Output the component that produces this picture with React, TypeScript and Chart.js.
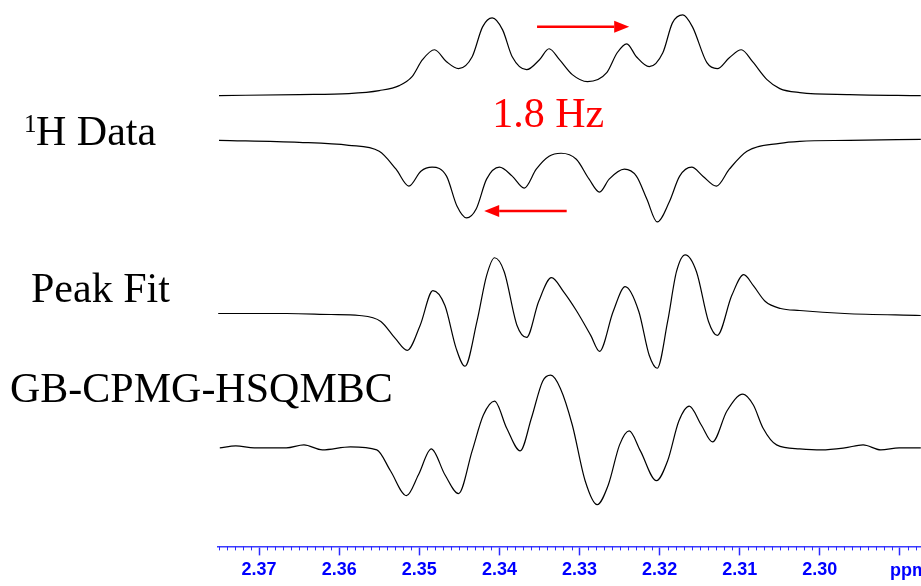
import React, { useEffect, useRef } from "react";
import { Chart, registerables } from "chart.js";

Chart.register(...registerables);

// ppm axis ticks
const tickValues = [2.37, 2.36, 2.35, 2.34, 2.33, 2.32, 2.31, 2.30, 2.29];
const tickLabels = ["2.37", "2.36", "2.35", "2.34", "2.33", "2.32", "2.31", "2.30", "ppm"];

// Trace 1: 1H data (in-phase, upright)
const hUpPpm = [2.3750, 2.3650, 2.3588, 2.3550, 2.3525, 2.3509, 2.3496, 2.3481, 2.3466, 2.3451, 2.3434, 2.3421, 2.3409, 2.3396, 2.3384, 2.3366, 2.3350, 2.3338, 2.3325, 2.3309, 2.3290, 2.3266, 2.3253, 2.3241, 2.3229, 2.3213, 2.3196, 2.3184, 2.3171, 2.3159, 2.3141, 2.3128, 2.3113, 2.3098, 2.3084, 2.3066, 2.3050, 2.3025, 2.2963, 2.2874];
const hUpVal = [0, 1, 2, 5, 10, 19, 36, 46, 34, 27, 39, 69, 78, 66, 39, 26, 36, 47, 36, 21, 14, 23, 43, 52, 39, 29, 43, 73, 81, 69, 33, 27, 38, 46, 34, 16, 7, 3, 1, 0];

// Trace 2: 1H data (inverted)
const hDownPpm = [2.3750, 2.3650, 2.3588, 2.3550, 2.3529, 2.3513, 2.3498, 2.3484, 2.3466, 2.3453, 2.3441, 2.3429, 2.3416, 2.3400, 2.3384, 2.3369, 2.3354, 2.3338, 2.3323, 2.3304, 2.3288, 2.3275, 2.3263, 2.3244, 2.3229, 2.3216, 2.3203, 2.3188, 2.3175, 2.3160, 2.3146, 2.3129, 2.3113, 2.3091, 2.3050, 2.3025, 2.2963, 2.2874];
const hDownVal = [0, -2, -5, -11, -29, -46, -31, -27, -36, -66, -78, -69, -39, -27, -36, -48, -29, -16, -13, -19, -39, -52, -39, -29, -36, -59, -82, -62, -36, -27, -36, -46, -29, -11, -3, -1, 0, 1];

// Trace 3: Peak Fit
const fitPpm = [2.3751, 2.3666, 2.3610, 2.3575, 2.3548, 2.3530, 2.3515, 2.3499, 2.3483, 2.3468, 2.3454, 2.3443, 2.3428, 2.3416, 2.3406, 2.3394, 2.3378, 2.3366, 2.3351, 2.3335, 2.3320, 2.3304, 2.3286, 2.3275, 2.3258, 2.3243, 2.3226, 2.3213, 2.3203, 2.3190, 2.3179, 2.3168, 2.3154, 2.3139, 2.3128, 2.3110, 2.3095, 2.3083, 2.3068, 2.3049, 2.3025, 2.2969, 2.2874];
const fitVal = [0, 0, -1, -2, -8, -25, -37, -12, 23, 8, -35, -53, -8, 38, 56, 42, -12, -24, 12, 36, 22, 3, -22, -38, 2, 27, 2, -42, -55, -8, 42, 59, 42, -8, -22, 18, 39, 28, 12, 5, 3, 0, -2];

// Trace 4: GB-CPMG-HSQMBC
const cpmgPpm = [2.3749, 2.3729, 2.3706, 2.3666, 2.3644, 2.3621, 2.3586, 2.3553, 2.3536, 2.3516, 2.3501, 2.3485, 2.3468, 2.3451, 2.3434, 2.3420, 2.3406, 2.3391, 2.3374, 2.3360, 2.3346, 2.3336, 2.3324, 2.3309, 2.3293, 2.3278, 2.3264, 2.3250, 2.3238, 2.3224, 2.3204, 2.3190, 2.3176, 2.3163, 2.3148, 2.3134, 2.3116, 2.3096, 2.3083, 2.3071, 2.3054, 2.3025, 2.2998, 2.2969, 2.2946, 2.2924, 2.2901, 2.2874];
const cpmgVal = [0, 2, 0, 0, 3, -2, 1, -2, -23, -48, -27, -1, -27, -46, -3, 33, 47, 20, -3, 30, 67, 73, 60, 23, -33, -57, -37, 3, 17, -3, -33, -13, 27, 42, 23, 6, 37, 54, 43, 20, 3, -1, -2, 0, 3, -2, 0, 0];

// vertical baseline of each trace (in y-scale units)
const traceOffsets = [453, 408, 234, 99];
const traces = [
  { ppm: hUpPpm, val: hUpVal },
  { ppm: hDownPpm, val: hDownVal },
  { ppm: fitPpm, val: fitVal },
  { ppm: cpmgPpm, val: cpmgVal },
];

const X_MIN = 2.287375;
const X_MAX = 2.375125;
const Y_MAX = 549;

const serif = "'Liberation Serif', 'Times New Roman', serif";
const sansBold = "bold 18px 'Liberation Sans', Arial, sans-serif";

const overlayPlugin = {
  id: "overlay",
  afterDraw(chart: any) {
    const ctx = chart.ctx;
    const xs = chart.scales.x;
    const ys = chart.scales.y;
    const bottom = chart.chartArea.bottom;
    ctx.save();
    // minor ticks
    ctx.strokeStyle = "#2a2aff";
    ctx.lineWidth = 1;
    for (let k = 2288; k <= 2375; k++) {
      if (k % 10 === 0) continue;
      const px = Math.round(xs.getPixelForValue(k / 1000)) + 0.5;
      ctx.beginPath();
      ctx.moveTo(px, bottom);
      ctx.lineTo(px, bottom + 4);
      ctx.stroke();
    }
    // unit label at the last tick
    ctx.fillStyle = "#0000ff";
    ctx.font = sansBold;
    ctx.textAlign = "left";
    ctx.textBaseline = "middle";
    ctx.fillText(tickLabels[tickLabels.length - 1], xs.getPixelForValue(tickValues[tickValues.length - 1]) - 10, bottom + 25);
    // arrows
    const arrow = (from: number, to: number, yv: number) => {
      const x1 = xs.getPixelForValue(from);
      const x2 = xs.getPixelForValue(to);
      const y = ys.getPixelForValue(yv);
      const dir = Math.sign(x2 - x1);
      const headLen = 15;
      ctx.strokeStyle = "#ff0000";
      ctx.fillStyle = "#ff0000";
      ctx.lineWidth = 2.5;
      ctx.beginPath();
      ctx.moveTo(x1, y);
      ctx.lineTo(x2 - dir * headLen, y);
      ctx.stroke();
      ctx.beginPath();
      ctx.moveTo(x2, y);
      ctx.lineTo(x2 - dir * headLen, y - 6);
      ctx.lineTo(x2 - dir * headLen, y + 6);
      ctx.closePath();
      ctx.fill();
    };
    arrow(2.3353, 2.3238, 522);
    arrow(2.3316, 2.3419, 337);
    // 1.8 Hz
    ctx.fillStyle = "#ff0000";
    ctx.font = `42px ${serif}`;
    ctx.textAlign = "center";
    ctx.textBaseline = "alphabetic";
    ctx.fillText("1.8 Hz", xs.getPixelForValue(2.3339), ys.getPixelForValue(421));
    // left labels
    ctx.fillStyle = "#000000";
    ctx.textAlign = "left";
    ctx.font = `25px ${serif}`;
    ctx.fillText("1", 24, 132);
    ctx.font = `42px ${serif}`;
    ctx.fillText("H Data", 36, 145);
    ctx.fillText("Peak Fit", 31, 302);
    ctx.fillText("GB-CPMG-HSQMBC", 10, 402);
    ctx.restore();
  },
};

export default function App() {
  const canvasRef = useRef<HTMLCanvasElement | null>(null);

  useEffect(() => {
    const canvas = canvasRef.current;
    if (!canvas) return;
    const datasets = traces.map((t, i) => ({
      label: `trace${i}`,
      data: t.ppm.map((p, j) => ({ x: p, y: t.val[j] + traceOffsets[i] })),
      borderColor: "#000000",
      borderWidth: 1.2,
      pointRadius: 0,
      fill: false,
      cubicInterpolationMode: "monotone" as const,
    }));
    const chart = new Chart(canvas, {
      type: "line",
      data: { datasets },
      options: {
        responsive: false,
        animation: false,
        layout: { padding: { left: 218, right: 0, top: 0, bottom: 1 } },
        plugins: { legend: { display: false }, tooltip: { enabled: false } },
        scales: {
          x: {
            type: "linear",
            reverse: true,
            min: X_MIN,
            max: X_MAX,
            afterBuildTicks: (scale: any) => {
              scale.ticks = tickValues.map((v) => ({ value: v }));
            },
            ticks: {
              autoSkip: false,
              maxRotation: 0,
              padding: 4,
              color: "#0000ff",
              font: { family: "'Liberation Sans', Arial, sans-serif", size: 18, weight: "bold" },
              callback: (_v: any, i: number) => (i === tickLabels.length - 1 ? "" : tickLabels[i]),
            },
            grid: { drawOnChartArea: false, drawTicks: true, tickLength: 9, tickColor: "#2a2aff", tickWidth: 1.5 },
            border: { display: true, color: "#3a3aff", width: 1.5 },
          },
          y: { display: false, min: 0, max: Y_MAX },
        },
      },
      plugins: [overlayPlugin],
    });
    return () => chart.destroy();
  }, []);

  return (
    <div style={{ position: "absolute", left: 0, top: 0, width: 921, height: 586, background: "#fff" }}>
      <canvas ref={canvasRef} width={921} height={586} />
    </div>
  );
}
